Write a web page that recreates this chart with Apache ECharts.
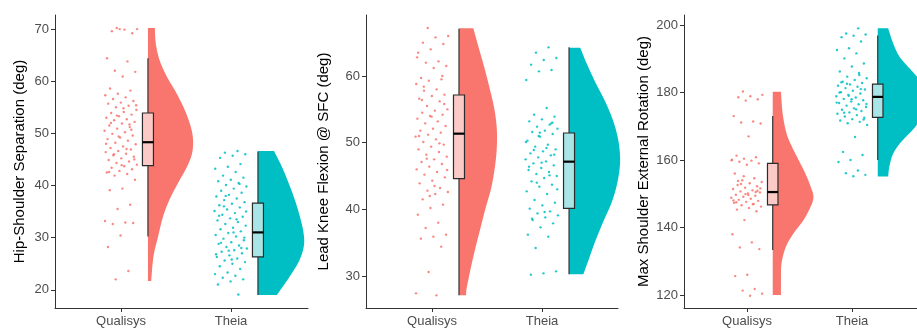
<!DOCTYPE html>
<html>
<head>
<meta charset="utf-8">
<script src="https://cdn.jsdelivr.net/npm/echarts@6/dist/echarts.min.js"></script>
<style>
  html, body { margin: 0; padding: 0; background: #fff; }
  #main { width: 917px; height: 331px; }
</style>
</head>
<body>
<div id="main"></div>
<script>
// ---- data ----
const groups = ['Qualisys', 'Theia'];
const titles = ['Hip-Shoulder Separation (deg)', 'Lead Knee Flexion @ SFC (deg)', 'Max Shoulder External Rotation (deg)'];
const yTicksHip = [20, 30, 40, 50, 60, 70];
const yTicksKnee = [30, 40, 50, 60];
const yTicksShoulder = [120, 140, 160, 180, 200];

// individual trials
const hipQualisys = [70.2, 70.0, 69.9, 69.6, 69.2, 70.0, 64.4, 63.8, 62.0, 61.8, 60.9,
  58.6, 58.2, 57.6, 57.3, 56.9, 56.6, 56.2, 55.9, 55.7, 55.3, 55.0,
  54.5, 54.1, 53.9, 53.6, 53.3, 53.0, 52.7, 52.5, 52.2, 51.9, 51.5, 51.2,
  50.9, 50.5, 50.2, 49.9, 49.6, 49.2, 48.9, 48.6, 48.2, 47.9, 47.5,
  47.2, 46.9, 46.6, 46.4, 46.1, 45.8, 45.5, 45.2, 44.9, 44.6, 44.3,
  44.0, 43.7, 43.4, 43.1, 42.8, 42.5, 42.2, 41.9, 41.1,
  39.4, 39.1, 36.3, 35.5, 33.2, 32.9, 32.6, 32.8, 30.4, 28.2, 23.6, 22.0,
  55.4, 54.8, 52.0, 50.7, 49.4, 48.0, 47.0, 46.0, 45.0, 43.9, 42.6, 51.7, 53.4];
const hipTheia = [46.6, 46.3, 46.0, 45.7, 45.3,
  44.1, 43.6, 43.2, 42.6, 41.9, 41.5, 41.1, 40.8, 40.5, 40.1,
  39.8, 39.4, 39.0, 38.6, 38.2, 37.9, 37.5, 37.2, 36.8, 36.5, 36.2,
  35.8, 35.4, 35.1, 34.7, 34.4, 34.0, 33.7, 33.3, 33.0, 32.6, 32.3,
  31.9, 31.6, 31.2, 30.9, 30.5, 30.2, 29.8, 29.5, 29.1, 28.8, 28.5, 28.2, 27.9,
  27.6, 27.3, 27.0, 26.6, 26.3, 26.0, 25.6, 25.3, 25.0, 24.5, 24.0,
  23.3, 23.0, 22.7, 22.3, 22.0, 21.6, 21.0, 19.1,
  38.0, 35.0, 31.0, 29.0, 28.0, 27.5, 26.8, 33.5, 36.0, 30.0, 25.8, 34.2, 40.3];
const kneeQualisys = [67.2, 66.0, 65.8, 65.0, 64.8, 64.0, 63.5, 62.2, 62.0, 61.5, 61.2,
  59.7, 59.5, 59.3, 58.8, 58.0, 57.8, 57.2, 57.0, 56.6, 56.2,
  55.5, 55.0, 54.8, 54.5, 54.2, 54.0, 53.6, 53.2, 52.9, 52.5, 52.1,
  51.8, 51.5, 51.2, 50.9, 50.5, 50.1, 49.7, 49.4, 49.0, 48.6, 48.2,
  47.9, 47.5, 47.1, 46.8, 46.4, 46.0, 45.6, 45.2, 44.8, 44.3,
  43.9, 43.2, 42.8, 42.6, 42.3, 41.5, 40.7, 40.2, 39.2, 38.0,
  37.2, 36.2, 35.9, 35.6, 34.4, 30.6, 27.4, 27.1,
  58.4, 55.8, 53.9, 51.0, 49.9, 47.6, 45.9, 43.5, 56.4, 60.0, 42.0, 62.8];
const kneeTheia = [64.3, 63.5, 62.7, 62.4, 61.7, 60.9, 60.7, 59.4,
  55.2, 54.2, 53.9, 53.5, 53.2, 52.7, 52.4, 52.1, 51.8, 51.6, 51.3,
  50.9, 50.3, 49.7, 49.4, 49.0, 48.7, 48.4, 48.1, 47.8, 47.5, 47.2,
  46.9, 46.6, 46.2, 45.9, 45.6, 45.3, 45.0, 44.7, 44.2, 43.7, 43.4,
  42.7, 42.3, 41.4, 41.0, 40.6, 40.1, 39.7, 39.4, 39.1, 38.8, 38.4, 37.9, 37.3,
  36.2, 35.9, 34.2, 30.7, 30.4, 30.2,
  52.9, 51.0, 50.1, 49.2, 48.9, 48.2, 47.0, 46.4, 45.1, 44.0, 43.0, 39.6, 38.6, 53.0, 51.5];
const shoulderQualisys = [180.3, 179.3, 178.9, 178.6, 178.0, 177.6,
  173.0, 171.4, 171.1, 170.8, 167.0,
  161.3, 160.8, 160.4, 160.1, 159.8, 159.5, 159.0, 158.6,
  156.0, 154.6, 154.0, 153.5, 153.1, 152.6, 152.2, 151.8, 151.4, 151.0, 150.7,
  150.4, 150.1, 149.7, 149.4, 149.1, 148.8, 148.5, 148.2, 147.9, 147.6, 147.3,
  147.0, 146.6, 146.2, 145.8, 145.3, 144.8, 142.2,
  138.0, 135.6, 134.1, 133.6, 126.0, 125.6, 121.8, 121.3, 120.4, 119.8,
  153.8, 150.9, 149.9, 148.0, 146.9, 152.9, 151.6, 149.6, 147.5, 150.5, 155.2, 159.9];
const shoulderTheia = [199.0, 197.5, 197.2, 196.8, 196.4, 195.1, 193.1, 192.6, 191.6, 190.1,
  188.6, 187.7, 186.2, 185.2, 184.7, 184.2, 183.7, 183.2, 182.8, 182.4, 182.0,
  181.7, 181.3, 180.9, 180.5, 180.1, 179.7, 179.3, 178.9, 178.5, 178.1, 177.7,
  177.3, 176.9, 176.5, 176.1, 175.7, 175.3, 174.9, 174.5, 174.1, 173.7, 173.3,
  172.9, 172.5, 172.1, 171.7, 171.3, 170.9, 170.4,
  166.8, 162.4, 161.5, 160.0, 159.4, 156.9, 156.1, 155.6, 155.2,
  183.0, 181.0, 179.0, 177.0, 175.0, 174.0, 172.0, 178.0, 180.0, 185.8, 182.6, 176.6];

// box stats [lower whisker, Q1, median, Q3, upper whisker]
const hipBox = [[30.2, 43.8, 48.3, 53.9, 64.4], [19.0, 26.3, 31.0, 36.6, 46.5]];
const kneeBox = [[27.1, 44.6, 51.35, 57.15, 67.1], [30.25, 40.15, 47.15, 51.45, 64.3]];
const shoulderBox = [[133.3, 146.7, 150.5, 159.0, 173.0], [160.0, 172.6, 178.7, 182.5, 196.9]];

// half-violin outlines, top to bottom: [value, relative density]
const hipViolinQualisys = [[70.2, 0.15], [67.3, 0.17], [64.1, 0.25], [60.9, 0.41], [57.7, 0.62], [54.5, 0.8],
  [51.3, 0.93], [48.8, 0.98], [46.2, 0.96], [43.6, 0.85], [40.4, 0.65], [37.3, 0.47], [34.1, 0.33],
  [30.2, 0.22], [26.4, 0.12], [21.7, 0.07]];
const hipViolinTheia = [[46.6, 0.35], [43.6, 0.52], [40.4, 0.67], [37.3, 0.8], [34.1, 0.91], [31.0, 0.99],
  [28.5, 1.0], [25.8, 0.91], [23.2, 0.74], [20.6, 0.54], [19.0, 0.41]];
const kneeViolinQualisys = [[67.15, 0.28], [64.15, 0.39], [61.15, 0.5], [58.15, 0.6], [55.15, 0.69], [52.15, 0.74],
  [49.15, 0.74], [46.15, 0.7], [43.15, 0.63], [40.15, 0.52], [37.15, 0.42], [34.15, 0.32], [31.15, 0.23],
  [28.15, 0.15], [27.1, 0.14]];
const kneeViolinTheia = [[64.25, 0.22], [62.15, 0.33], [59.15, 0.51], [56.15, 0.71], [53.15, 0.87], [50.15, 0.97],
  [47.15, 1.0], [44.15, 0.95], [41.15, 0.84], [38.15, 0.67], [35.15, 0.51], [32.15, 0.37], [30.25, 0.28]];
const shoulderViolinQualisys = [[180.2, 0.15], [173.8, 0.18], [167.9, 0.25], [163.9, 0.35], [160.0, 0.47], [156.1, 0.59],
  [152.1, 0.69], [149.1, 0.74], [146.2, 0.69], [142.2, 0.56], [138.3, 0.38], [134.3, 0.24], [129.4, 0.16],
  [124.4, 0.15], [120.0, 0.15]];
const shoulderViolinTheia = [[199.0, 0.19], [195.0, 0.27], [191.0, 0.38], [188.0, 0.53], [185.5, 0.67], [182.0, 0.84],
  [178.5, 0.95], [175.0, 0.91], [172.0, 0.78], [169.0, 0.64], [166.5, 0.49], [164.0, 0.36], [161.5, 0.27],
  [158.0, 0.21], [155.1, 0.19]];

// ---- drawing ----
const colors = ['#F8766D', '#00BFC4'];
const boxFill = ['#fbcac6', '#a9e5e7'];
const NUDGE = 0.245;
const BOX_W = 0.1;
const FONT = '"Liberation Sans", Arial, sans-serif';

const panels = [
  {title: titles[0], ticks: yTicksHip, ymin: 16.5, ymax: 72.7, left: 55, width: 253, xmax: 2.7, gap: 28, maxW: 0.418,
    pts: [hipQualisys, hipTheia], box: hipBox, violins: [hipViolinQualisys, hipViolinTheia]},
  {title: titles[1], ticks: yTicksKnee, ymin: 25.2, ymax: 69.15, left: 366, width: 252, xmax: 2.69, gap: 35, maxW: 0.464,
    pts: [kneeQualisys, kneeTheia], box: kneeBox, violins: [kneeViolinQualisys, kneeViolinTheia]},
  {title: titles[2], ticks: yTicksShoulder, ymin: 116.15, ymax: 202.96, left: 684, width: 260, xmax: 2.876, gap: 33, maxW: 0.524,
    pts: [shoulderQualisys, shoulderTheia], box: shoulderBox, violins: [shoulderViolinQualisys, shoulderViolinTheia]}
];

// catmull-rom through the outline points, in pixel space
function smoothEdge(pts, steps) {
  const out = [];
  for (let i = 0; i < pts.length - 1; i++) {
    const p0 = pts[Math.max(i - 1, 0)], p1 = pts[i], p2 = pts[i + 1], p3 = pts[Math.min(i + 2, pts.length - 1)];
    for (let s = 0; s < steps; s++) {
      const t = s / steps, t2 = t * t, t3 = t2 * t;
      out.push([0, 1].map(k => 0.5 * (2 * p1[k] + (p2[k] - p0[k]) * t +
        (2 * p0[k] - 5 * p1[k] + 4 * p2[k] - p3[k]) * t2 + (3 * p1[k] - p0[k] - 3 * p2[k] + p3[k]) * t3)));
    }
  }
  out.push(pts[pts.length - 1]);
  return out;
}

// deterministic horizontal spread for the raw points
const jit = i => ((i * 0.6180339887 + 0.37) % 1) * 0.3 - 0.15;

const option = {
  animation: false,
  backgroundColor: '#fff',
  grid: [], xAxis: [], yAxis: [], series: []
};

panels.forEach((p, k) => {
  option.grid.push({left: p.left, top: 15, width: p.width, height: 293, containLabel: false, outerBoundsMode: 'none'});
  option.xAxis.push({
    type: 'value', gridIndex: k, min: 0.4, max: p.xmax,
    axisLine: {show: true, onZero: false, lineStyle: {color: '#333', width: 1}},
    axisTick: {show: true, length: 4, customValues: [1, 2], lineStyle: {color: '#333'}},
    axisLabel: {customValues: [1, 2], formatter: v => groups[Math.round(v) - 1], margin: 7,
      color: '#4d4d4d', fontSize: 13, fontFamily: FONT},
    splitLine: {show: false}
  });
  option.yAxis.push({
    type: 'value', gridIndex: k, min: p.ymin, max: p.ymax,
    name: p.title, nameLocation: 'middle', nameGap: p.gap, nameMoveOverlap: false,
    nameTextStyle: {color: '#000', fontSize: 15, fontFamily: FONT},
    axisLine: {show: true, onZero: false, lineStyle: {color: '#333', width: 1}},
    axisTick: {show: true, length: 4, customValues: p.ticks, lineStyle: {color: '#333'}},
    axisLabel: {customValues: p.ticks, margin: 6, color: '#4d4d4d', fontSize: 13, fontFamily: FONT},
    splitLine: {show: false}
  });

  // half violins
  option.series.push({
    type: 'custom', xAxisIndex: k, yAxisIndex: k, z: 2, silent: true,
    data: groups.map((g, gi) => [gi + 1, p.box[gi][2]]),
    renderItem: function (params, api) {
      const gi = params.dataIndex;
      const prof = p.violins[gi];
      const x0 = gi + 1 + NUDGE;
      const edge = smoothEdge(prof.map(d => api.coord([x0 + d[1] * p.maxW, d[0]])), 10);
      const top = api.coord([x0, prof[0][0]]);
      const bot = api.coord([x0, prof[prof.length - 1][0]]);
      return {type: 'polygon', shape: {points: [top].concat(edge, [bot])}, style: {fill: colors[gi]}};
    }
  });

  // boxplots
  option.series.push({
    type: 'custom', xAxisIndex: k, yAxisIndex: k, z: 3, silent: true,
    data: groups.map((g, gi) => [gi + 1, p.box[gi][2]]),
    renderItem: function (params, api) {
      const gi = params.dataIndex;
      const s = p.box[gi];
      const xc = gi + 1 + NUDGE, hw = BOX_W / 2;
      const wTop = api.coord([xc, s[4]]), wBot = api.coord([xc, s[0]]);
      const q3 = api.coord([xc - hw, s[3]]), q1 = api.coord([xc + hw, s[1]]);
      const mL = api.coord([xc - hw, s[2]]), mR = api.coord([xc + hw, s[2]]);
      return {type: 'group', children: [
        {type: 'line', shape: {x1: wTop[0], y1: wTop[1], x2: wBot[0], y2: wBot[1]}, style: {stroke: '#333', lineWidth: 1.2}},
        {type: 'rect', shape: {x: q3[0], y: q3[1], width: q1[0] - q3[0], height: q1[1] - q3[1]},
          style: {fill: boxFill[gi], stroke: '#2b2b2b', lineWidth: 1.2}},
        {type: 'line', shape: {x1: mL[0], y1: mL[1], x2: mR[0], y2: mR[1]}, style: {stroke: '#000', lineWidth: 2.2}}
      ]};
    }
  });

  // raw points
  p.pts.forEach((vals, gi) => {
    option.series.push({
      type: 'scatter', xAxisIndex: k, yAxisIndex: k, z: 1, silent: true,
      symbolSize: 2.4,
      itemStyle: {color: colors[gi], opacity: 0.85},
      data: vals.map((v, i) => [gi + 1 + jit(i + gi * 7), v])
    });
  });
});

const chart = echarts.init(document.getElementById('main'), null, {renderer: 'canvas'});
chart.setOption(option);
</script>
</body>
</html>
